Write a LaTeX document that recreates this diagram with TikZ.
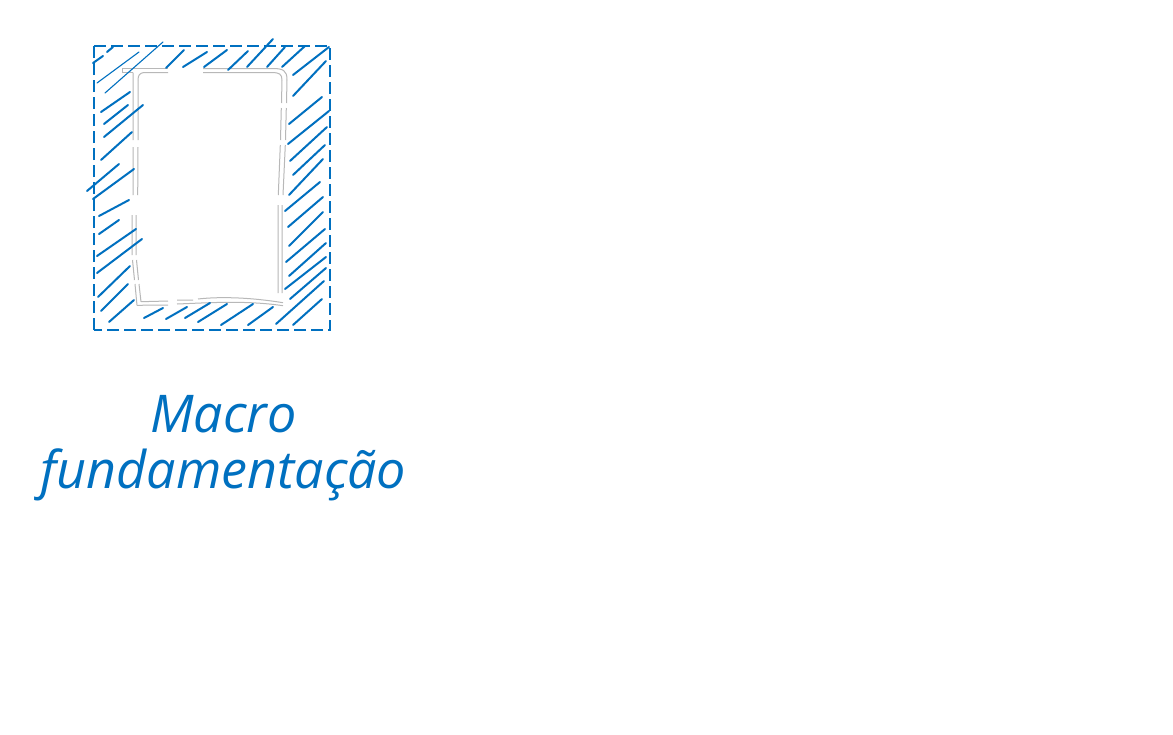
\documentclass[tikz,border=0pt]{standalone}
\usepackage{fontspec}
\setmainfont{Open Sans}
\definecolor{hatchblue}{HTML}{0070C0}
\definecolor{edgegray}{HTML}{B8B8B8}
\tikzset{
  hatch/.style={draw=hatchblue,line width=2pt,line cap=round},
  hatchthin/.style={draw=hatchblue,line width=1.1pt,line cap=round},
  frame/.style={draw=hatchblue,line width=2.2pt,dash pattern=on 12pt off 5pt},
  framethin/.style={draw=hatchblue,line width=1.2pt,dash pattern=on 12pt off 5pt},
  rimline/.style={draw=edgegray,line width=1pt},
  caption/.style={text=hatchblue,font=\fontsize{52}{56}\selectfont\itshape,align=center,inner sep=0pt}
}
\begin{document}
\begin{tikzpicture}[x=1pt,y=-1pt]
\path[use as bounding box,fill=white] (0,0) rectangle (1173,734);
% frame
\draw[framethin] (94,330) -- (94,46);
\draw[frame] (94,46) -- (330,46) -- (330,330) -- (94,330);
% rim of the blank panel: top
\draw[rimline] (122,72.5) -- (122,68.5) -- (168,68.5);
\draw[rimline] (203,68.5) -- (272,68.5) .. controls (283,68.5) and (287,70) .. (287,80);
\draw[rimline] (122,72.5) -- (133,72.5);
\draw[rimline] (138,80) .. controls (138,75) and (140,73) .. (144,72.5) -- (168,72.5);
\draw[rimline] (203,72.5) -- (272,72.5) .. controls (279,72.5) and (282,74) .. (282,80);
% right
\draw[rimline] (287,80) -- (286.5,103) (286.3,108) -- (285.5,140) (285.3,145) -- (283,195) (282,205) -- (282,293);
\draw[rimline] (282,80) -- (281.5,103) (281.3,108) -- (280.5,140) (280.3,145) -- (278.3,195) (278,205) -- (278,293);
% bottom
\draw[rimline] (141,301.7) -- (168,301) (177,300) -- (193,300) (198,299) .. controls (215,297) and (245,296.5) .. (283,302.7);
\draw[rimline] (137,305.3) -- (168,305) (177,304) .. controls (205,303) and (245,300) .. (283,305.7);
% left
\draw[rimline] (133,72.5) -- (133,140) (133,147) -- (133,195) (132,215) -- (132,255) (132.5,260) -- (134.5,280) (135,284) -- (137,305.3);
\draw[rimline] (138,80) -- (138,140) (138,147) -- (137.7,195) (136,215) -- (136,255) (136.5,260) -- (138.5,280) (139,284) -- (141,301.7);
% thin hatches
\foreach \a/\b/\c/\d in {97/83/139/52,105/93/163/42}
  \draw[hatchthin] (\a,\b) -- (\c,\d);
% hatches
\foreach \a/\b/\c/\d in {
 93/63/103/56,107/52/113/47,166/68/184/50,183/67/207/52,204/67/227/50,
 228/70/248/51,247/67/273/39,267/67/285/47,282/67/305/46,293/75/329/47,
 293/96/326/61,289/124/322/97,288/144/329/111,290/161/327/127,293/175/325/145,
 289/195/323/159,285/211/320/182,288/227/323/197,289/246/323/212,286/262/325/229,
 289/276/326/243,285/289/326/257,290/299/326/268,276/324/324/281,293/325/322/299,
 221/325/253/304,248/325/273/307,198/322/227/304,185/318/210/303,166/319/187/307,
 144/318/163/308,109/322/134/300,101/311/128/284,98/297/130/266,97/273/142/239,
 97/256/136/229,99/234/119/220,99/216/129/200,93/199/134/169,87/191/119/164,
 101/160/132/132,104/137/143/105,104/124/128/105,101/112/130/92}
  \draw[hatch] (\a,\b) -- (\c,\d);
% caption
\node[caption,anchor=base] (caption) at (223.5,488) {Macro\\fundamentação};
\end{tikzpicture}
\end{document}
